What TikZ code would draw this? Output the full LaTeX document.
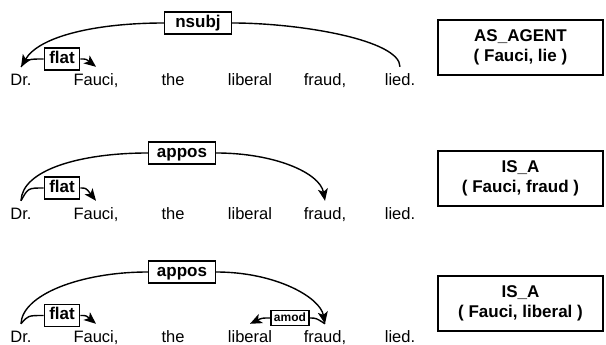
\documentclass[tikz,border=0pt]{standalone}
\usepackage{fontspec}
\setmainfont{Liberation Sans}
\usetikzlibrary{arrows.meta}

\begin{document}
\begin{tikzpicture}[x=1pt, y=1pt,
    wd/.style={font=\fontsize{16.5}{18}\selectfont, anchor=base, inner xsep=0pt, inner ysep=6pt, text height=13pt, text depth=0pt},
    lab/.style={draw, line width=1.4pt, fill=white, font=\bfseries\fontsize{17}{19}\selectfont, inner xsep=5pt, inner ysep=3pt, text height=12.5pt, text depth=3.5pt},
    wide/.style={minimum width=67pt},
    sm/.style={draw, line width=1.2pt, fill=white, font=\bfseries\fontsize{12}{13}\selectfont, inner xsep=3pt, inner ysep=1.5pt, text height=9pt, text depth=2.5pt},
    rel/.style={draw, line width=1.7pt, minimum width=165pt, minimum height=55pt, align=center, font=\bfseries\fontsize{17}{20}\selectfont},
    dep/.style={line width=1.4pt},
    a/.style={dep, -{Stealth[length=12pt, width=10pt, inset=3pt]}}
]
\useasboundingbox (0,0) rectangle (606,345);
% sentence 1
\node[wd] (dr1)  at (21,259)  {Dr.};
\node[wd] (fau1) at (96,259)  {Fauci,};
\node[wd] (the1) at (173,259) {the};
\node[wd] (lib1) at (250,259) {liberal};
\node[wd] (fra1) at (325,259) {fraud,};
\node[wd] (lie1) at (400,259) {lied.};
\node[lab, wide] (nsubj1) at (198,322) {nsubj};
\node[lab] (flat1) at (62,286) {flat};
\draw[dep] (lie1.north) .. controls (400,305) and (300,322) .. (nsubj1.east);
\draw[a] (nsubj1.west) .. controls (100,322) and (40,310) .. (dr1.north);
\draw[dep] (dr1.north) .. controls (28,286) .. (flat1.west);
\draw[a] (flat1.east) .. controls (86,286) .. (fau1.north);
\node[rel] (r1) at (520.5,297.5) {AS\_AGENT\\( Fauci, lie )};
% sentence 2
\node[wd] (dr2)  at (21,125)  {Dr.};
\node[wd] (fau2) at (96,125)  {Fauci,};
\node[wd] (the2) at (173,125) {the};
\node[wd] (lib2) at (250,125) {liberal};
\node[wd] (fra2) at (325,125) {fraud,};
\node[wd] (lie2) at (400,125) {lied.};
\node[lab, wide] (appos2) at (182,192) {appos};
\node[lab] (flat2) at (62,157) {flat};
\draw[dep] (dr2.north) .. controls (22,175) and (80,192) .. (appos2.west);
\draw[a] (appos2.east) .. controls (275,192) and (320,172) .. (fra2.north);
\draw[dep] (dr2.north) .. controls (28,157) .. (flat2.west);
\draw[a] (flat2.east) .. controls (86,157) .. (fau2.north);
\node[rel] (r2) at (520.5,166.5) {IS\_A\\( Fauci, fraud )};
% sentence 3
\node[wd] (dr3)  at (21,2)  {Dr.};
\node[wd] (fau3) at (96,2)  {Fauci,};
\node[wd] (the3) at (173,2) {the};
\node[wd] (lib3) at (250,2) {liberal};
\node[wd] (fra3) at (325,2) {fraud,};
\node[wd] (lie3) at (400,2) {lied.};
\node[lab, wide] (appos3) at (182,73) {appos};
\node[lab] (flat3) at (62,29.5) {flat};
\node[sm] (amod3) at (290,27) {amod};
\draw[dep] (dr3.north) .. controls (22,50) and (80,73) .. (appos3.west);
\draw[a] (appos3.east) .. controls (275,73) and (320,48) .. (fra3.north);
\draw[dep] (dr3.north) .. controls (28,29.5) .. (flat3.west);
\draw[a] (flat3.east) .. controls (86,29.5) .. (fau3.north);
\draw[dep] (fra3.north) .. controls (316,27) .. (amod3.east);
\draw[a] (amod3.west) .. controls (262,27) .. (lib3.north);
\node[rel] (r3) at (520.5,41.5) {IS\_A\\( Fauci, liberal )};
\end{tikzpicture}
\end{document}
